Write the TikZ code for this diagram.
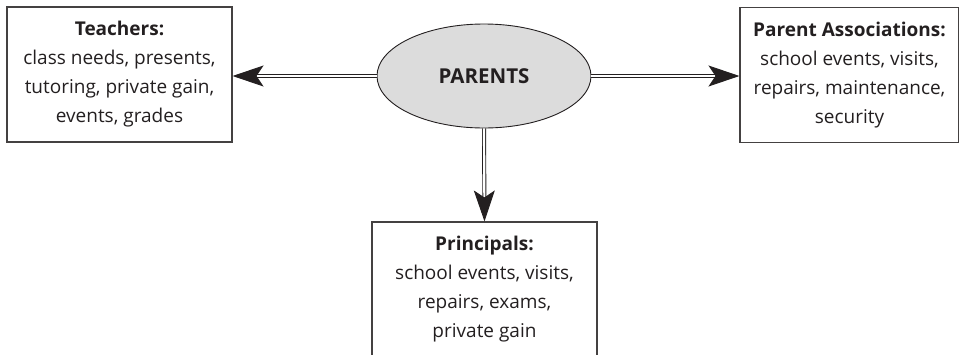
\documentclass[tikz,border=0pt]{standalone}
\usepackage{fontspec}
\setmainfont{Open Sans}
\usetikzlibrary{arrows.meta,shapes.geometric}
\definecolor{ink}{HTML}{231f20}
\definecolor{shade}{HTML}{dcdcdc}

\begin{document}
\begin{tikzpicture}[x=1pt,y=-1pt]
            \tikzstyle{every node}=[font=\fontsize{19}{29}\selectfont,text=ink]
            \tikzstyle{infobox}=[draw=ink!85,line width=1.1pt,minimum width=225pt,minimum height=135pt,align=center,inner sep=0pt]
            \tikzstyle{link}=[draw=ink,double=white,double distance=2.2pt,line width=0.9pt,-{Stealth[length=31pt,width=21pt,inset=7pt]}]
            \useasboundingbox (0,0) rectangle (959,354);
            \node[draw=ink,line width=0.9pt,fill=shade,ellipse,minimum width=214pt,minimum height=104pt,font=\fontsize{20.5}{24}\selectfont] (parents) at (484,76) {\textbf{PARENTS}};
            \node[infobox] (teachers) at (119.5,74.5) {\textbf{Teachers:}\\class needs, presents,\\tutoring, private gain,\\events, grades};
            \node[infobox,minimum width=219pt] (assoc) at (849.5,75) {\textbf{Parent Associations:}\\school events, visits,\\repairs, maintenance,\\security};
            \node[infobox] (principals) at (484.5,289.5) {\textbf{Principals:}\\school events, visits,\\repairs, exams,\\private gain};
            % double arrows out of the ellipse
            \draw[link] (parents.west) -- (parents.west -| teachers.east);
            \draw[link] (parents.east) -- (parents.east -| assoc.west);
            \draw[link] (parents.south) -- (principals.north);
          \end{tikzpicture}
\end{document}
